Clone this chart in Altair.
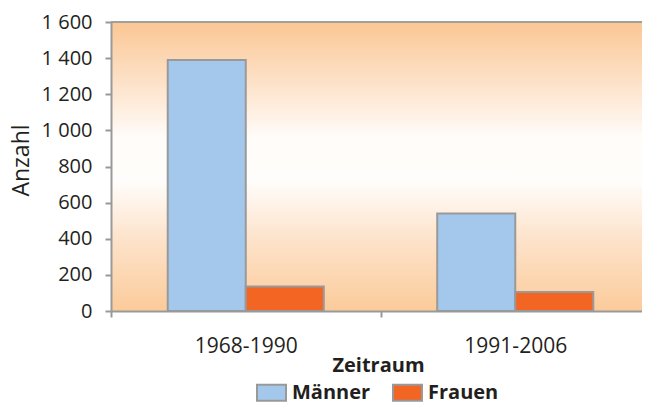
import altair as alt
import pandas as pd

zeitraum = ["1968-1990", "1991-2006"]
geschlecht = ["Männer", "Frauen"]
maenner = [1390, 540]
frauen = [135, 105]
farben = ["#A3C8EC", "#F26522"]
y_ticks = [0, 200, 400, 600, 800, 1000, 1200, 1400, 1600]

rows = []
for i, z in enumerate(zeitraum):
    rows.append({"Zeitraum": z, "Geschlecht": geschlecht[0], "Anzahl": maenner[i]})
    rows.append({"Zeitraum": z, "Geschlecht": geschlecht[1], "Anzahl": frauen[i]})
df = pd.DataFrame(rows)

W, H = 531, 289
XR = 539
FONT = "Open Sans"
TXT = "#231F20"
GRAY = "#999999"

one = pd.DataFrame({"a": [0]})

bg = alt.Chart(one).mark_rect(
    fill=alt.Gradient(
        gradient="linear", x1=0, y1=0, x2=0, y2=1,
        stops=[
            alt.GradientStop(color="#FBC794", offset=0),
            alt.GradientStop(color="#FDE3CB", offset=0.22),
            alt.GradientStop(color="#FFFCF9", offset=0.40),
            alt.GradientStop(color="#FFFDFB", offset=0.55),
            alt.GradientStop(color="#FDE3CB", offset=0.75),
            alt.GradientStop(color="#FBCB9A", offset=1),
        ],
    )
).encode(x=alt.value(0), x2=alt.value(XR), y=alt.value(0), y2=alt.value(H))

top = alt.Chart(one).mark_rule(color="#A0A0A0", strokeWidth=2).encode(
    x=alt.value(0), x2=alt.value(XR), y=alt.value(0)
)

bars = alt.Chart(df).mark_bar(stroke=GRAY, strokeWidth=2).encode(
    x=alt.X(
        "Zeitraum:N", sort=zeitraum,
        scale=alt.Scale(paddingInner=0, paddingOuter=0, range=[0, XR]),
        axis=alt.Axis(
            title="Zeitraum", labelAngle=0, tickBand="extent",
            tickSize=6, labelPadding=18, labelFontSize=21, labelColor=TXT,
            titleFontSize=20, titleFontWeight="bold", titleColor=TXT,
            titleX=267, titleY=44, titleBaseline="top",
            domainColor=GRAY, domainWidth=2, tickColor=GRAY, tickWidth=2,
            zindex=1,
        ),
    ),
    xOffset=alt.XOffset(
        "Geschlecht:N", sort=geschlecht,
        scale=alt.Scale(paddingInner=0, paddingOuter=0.727),
    ),
    y=alt.Y(
        "Anzahl:Q",
        scale=alt.Scale(domain=[0, 1600], nice=False),
        axis=alt.Axis(
            title="Anzahl", values=y_ticks, grid=False,
            labelExpr="replace(format(datum.value, ','), ',', ' ')",
            tickSize=6, labelPadding=13, labelFontSize=20, labelColor=TXT,
            titleFontSize=23, titleFontWeight="normal", titleColor=TXT,
            titleX=-83, titleY=138, titleBaseline="alphabetic", titleAngle=270,
            domainColor=GRAY, domainWidth=2, tickColor=GRAY, tickWidth=2,
            zindex=1,
        ),
    ),
    fill=alt.Fill(
        "Geschlecht:N", sort=geschlecht,
        scale=alt.Scale(domain=geschlecht, range=farben),
        legend=alt.Legend(
            title=None, orient="none", legendX=145, legendY=355,
            direction="horizontal", padding=0,
            symbolType="M-1,-0.55H1V0.55H-1Z", symbolSize=841,
            symbolStrokeColor=GRAY, symbolStrokeWidth=2, symbolOpacity=1,
            labelFontSize=20, labelFontWeight="bold", labelColor=TXT,
            labelOffset=5, columnPadding=18,
        ),
    ),
)

chart = alt.layer(bg, bars, top).properties(
    width=W, height=H,
    autosize=alt.AutoSizeParams(type="none"),
    padding={"left": 103, "top": 14, "right": 0, "bottom": 92},
).configure(font=FONT).configure_view(stroke=None)

chart.save("out.html", embed_options={"renderer": "svg", "actions": False})
